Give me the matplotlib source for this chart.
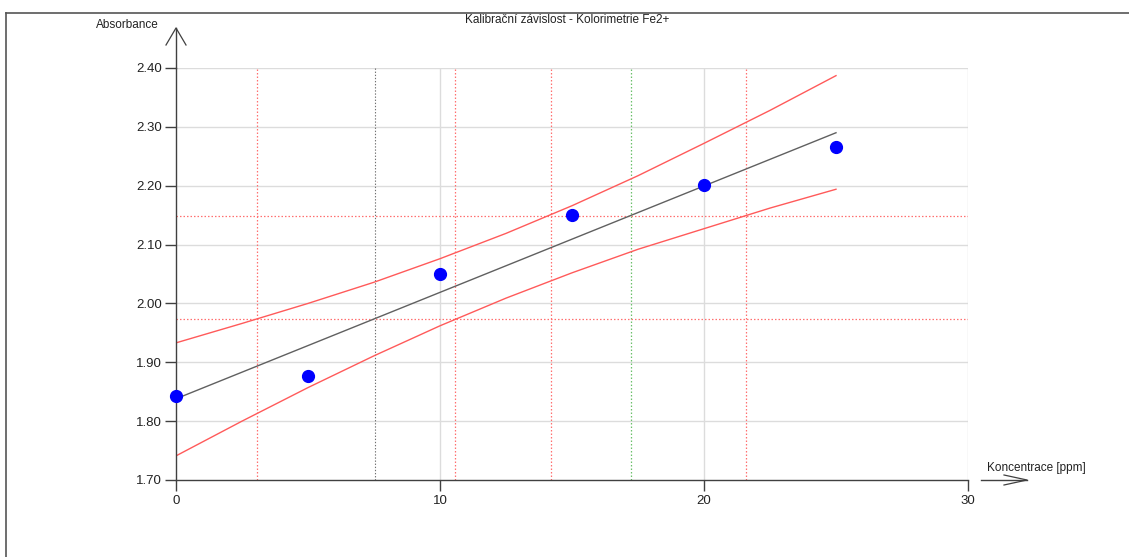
import matplotlib
matplotlib.use("Agg")
import matplotlib.pyplot as plt
from matplotlib.lines import Line2D
from matplotlib.transforms import IdentityTransform

plt.rcParams['font.family'] = ['Liberation Sans', 'DejaVu Sans']

# ---- data ----
conc = [0, 5, 10, 15, 20, 25]
absorb = [1.842, 1.876, 2.050, 2.150, 2.201, 2.265]

fit_x = [0, 25]
fit_y = [1.838, 2.290]

band_x = [0, 2.5, 5, 7.5, 10, 12.5, 15, 17.5, 20, 22.5, 25]
upper_y = [1.933, 1.966, 2.000, 2.036, 2.076, 2.119, 2.166, 2.217, 2.272, 2.328, 2.387]
lower_y = [1.741, 1.800, 1.857, 1.911, 1.962, 2.009, 2.052, 2.092, 2.127, 2.162, 2.194]

red_vlines = [3.05, 10.57, 14.19, 21.60]
black_vline = [7.52]
green_vline = [17.24]
red_hlines = [1.973, 2.149]

x_ticks = [0, 10, 20, 30]
y_ticks = [1.70, 1.80, 1.90, 2.00, 2.10, 2.20, 2.30, 2.40]

title = "Kalibrační závislost - Kolorimetrie Fe2+"
xlabel = "Koncentrace [ppm]"
ylabel = "Absorbance"

W, H = 1129, 557
fig = plt.figure(figsize=(W / 100, H / 100), dpi=100)
fig.patch.set_facecolor('white')
ax = fig.add_axes([176 / W, 1 - 480 / H, (968 - 176) / W, (480 - 68) / H])
ax.set_xlim(0, 30)
ax.set_ylim(1.70, 2.40)

# grid
for xv in x_ticks[1:]:
    ax.axvline(xv, color='#dcdcdc', lw=1.0, zorder=0)
for yv in y_ticks[1:]:
    ax.axhline(yv, color='#dcdcdc', lw=1.0, zorder=0)

dot = (0, (1.2, 1.6))
for xv in red_vlines:
    ax.axvline(xv, color='#ff7070', lw=0.9, ls=dot, zorder=1)
for xv in black_vline:
    ax.axvline(xv, color='#707070', lw=0.8, ls=dot, zorder=1)
for xv in green_vline:
    ax.axvline(xv, color='#6cc06c', lw=0.9, ls=dot, zorder=1)
for yv in red_hlines:
    ax.axhline(yv, color='#ff7070', lw=0.9, ls=dot, zorder=1)

ax.plot(band_x, upper_y, color='#ff5a5a', lw=1.0, zorder=2)
ax.plot(band_x, lower_y, color='#ff5a5a', lw=1.0, zorder=2)
ax.plot(fit_x, fit_y, color='#606060', lw=1.0, zorder=2)
ax.plot(conc, absorb, 'o', color='#0000ff', ms=8.5, mec='#0000ff', zorder=3, clip_on=False)

ax.set_xticks(x_ticks)
ax.set_yticks(y_ticks)
ax.set_yticklabels([f"{v:.2f}" for v in y_ticks])
ax.tick_params(axis='both', direction='out', length=8, width=1.0, color='#404040',
               labelsize=9.5, labelcolor='#222222', pad=2)
ax.tick_params(axis='x', pad=3)
for s in ['top', 'right']:
    ax.spines[s].set_visible(False)
for s in ['left', 'bottom']:
    ax.spines[s].set_color('#404040')
    ax.spines[s].set_linewidth(1.0)

# titles / labels (figure pixel coordinates)
fig.text(567 / W, 1 - 20 / H, title, ha='center', va='center', fontsize=8.5, color='#222222')
fig.text(96 / W, 1 - 25 / H, ylabel, ha='left', va='center', fontsize=8.5, color='#222222')
fig.text(987 / W, 1 - 468 / H, xlabel, ha='left', va='center', fontsize=8.5, color='#222222')

# outer frame lines
def pix_line(xs, ys, **kw):
    fig.add_artist(Line2D(xs, [H - y for y in ys], transform=IdentityTransform(), **kw))

pix_line([6, W], [13, 13], color='#555555', lw=1.2)
pix_line([6, 6], [13, H], color='#555555', lw=1.2)

# axis arrows
fig.canvas.draw()
x0, ytop = ax.transData.transform((0, 2.40))
xr, yb = ax.transData.transform((30, 1.70))
tip_y = ytop + 40
fig.add_artist(Line2D([x0, x0], [ytop, tip_y], transform=IdentityTransform(), color='#404040', lw=1.0))
fig.add_artist(Line2D([x0 - 10, x0, x0 + 10], [tip_y - 17, tip_y, tip_y - 17],
                      transform=IdentityTransform(), color='#404040', lw=0.9))
ax_x0 = xr + 13
ax_x1 = xr + 59
fig.add_artist(Line2D([ax_x0, ax_x1], [yb, yb], transform=IdentityTransform(), color='#404040', lw=1.0))
fig.add_artist(Line2D([ax_x1 - 23, ax_x1, ax_x1 - 23], [yb + 5, yb, yb - 5],
                      transform=IdentityTransform(), color='#404040', lw=0.9))

fig.savefig("out.png", dpi=100)
